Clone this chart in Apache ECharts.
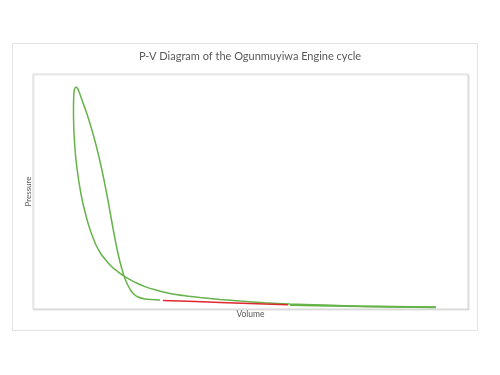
<!DOCTYPE html>
<html>
<head>
<meta charset="utf-8">
<script src="https://cdn.jsdelivr.net/npm/echarts@6/dist/echarts.min.js"></script>
<style>
html,body{margin:0;padding:0;background:#fff;}
#main{width:500px;height:375px;}
</style>
</head>
<body>
<div id="main"></div>
<script>
// Main cycle: compression (right branch, bottom -> peak) then expansion (left branch, peak -> end)
const loopVolume = [29.20, 27.36, 25.75, 24.14, 23.17, 22.41, 21.79, 21.26, 20.92, 20.51, 19.89, 19.36, 18.90, 18.46, 18.05, 17.63, 17.22, 16.78, 16.32, 15.84, 15.33, 14.78, 14.18, 13.54, 12.85, 12.09, 11.26, 10.69, 10.25, 9.82, 9.56, 9.43, 9.36, 9.31, 9.31, 9.36, 9.45, 9.59, 9.77, 10.02, 10.32, 10.67, 11.08, 11.56, 12.14, 12.78, 13.56, 14.48, 15.63, 16.90, 18.16, 19.54, 20.92, 22.30, 23.91, 25.75, 28.05, 31.49, 34.94, 38.39, 42.99, 47.59, 53.33, 59.08, 65.98, 72.87, 82.07, 92.64];
const loopPressure = [3.83, 4.00, 4.26, 5.11, 6.38, 8.09, 10.21, 12.34, 14.04, 16.60, 20.85, 25.11, 29.36, 33.62, 37.87, 42.13, 46.38, 50.64, 54.89, 59.15, 63.40, 67.66, 71.91, 76.17, 80.43, 84.68, 88.94, 91.91, 93.83, 94.47, 93.62, 92.34, 90.21, 86.81, 82.55, 78.30, 74.04, 69.79, 65.53, 61.28, 57.02, 52.77, 48.51, 44.26, 40.00, 35.74, 31.49, 27.23, 23.40, 20.43, 17.87, 15.83, 14.04, 12.51, 10.94, 9.53, 8.17, 6.60, 5.62, 4.89, 4.09, 3.40, 2.68, 2.13, 1.66, 1.28, 0.98, 0.72];
// Exhaust stroke (green)
const exhaustVolume = [92.6, 75.0, 59.1];
const exhaustPressure = [0.7, 1.2, 1.7];
// Intake stroke (red)
const intakeVolume = [58.6, 43.0, 29.9];
const intakePressure = [1.8, 2.8, 3.6];

const titleText = 'P-V Diagram of the Ogunmuyiwa Engine cycle';
const xName = 'Volume';
const yName = 'Pressure';

const zip = (a, b) => a.map((v, i) => [v, b[i]]);
const green = '#66b34a';
const red = '#e0262e';

const chart = echarts.init(document.getElementById('main'), null, {renderer: 'canvas'});
chart.setOption({
  animation: false,
  backgroundColor: '#ffffff',
  graphic: [{
    type: 'rect', z: -10,
    shape: {x: 12.5, y: 43.5, width: 465, height: 287},
    style: {fill: '#ffffff', stroke: '#e3e3e3', lineWidth: 1}
  }],
  title: {
    text: titleText, left: 'center', top: 46,
    textStyle: {fontFamily: 'Lato', fontSize: 11, fontWeight: 'normal', color: '#595959'}
  },
  grid: {
    left: 33, top: 74, right: 32, bottom: 66,
    show: true, borderColor: '#d9d9d9', borderWidth: 1, backgroundColor: '#ffffff',
    shadowColor: 'rgba(0,0,0,0.10)', shadowBlur: 1, shadowOffsetX: 1, shadowOffsetY: 1
  },
  xAxis: {
    type: 'value', min: 0, max: 100,
    name: xName, nameLocation: 'middle', nameGap: 1,
    nameTextStyle: {fontFamily: 'Lato', fontSize: 8.5, color: '#595959'},
    axisLine: {show: false}, axisTick: {show: false}, axisLabel: {show: false}, splitLine: {show: false}
  },
  yAxis: {
    type: 'value', min: 0, max: 100,
    name: yName, nameLocation: 'middle', nameGap: 1,
    nameTextStyle: {fontFamily: 'Lato', fontSize: 8, color: '#595959'},
    axisLine: {show: false}, axisTick: {show: false}, axisLabel: {show: false}, splitLine: {show: false}
  },
  series: [
    {type: 'line', data: zip(loopVolume, loopPressure), smooth: 0.3, showSymbol: false,
     lineStyle: {color: green, width: 1.5}},
    {type: 'line', data: zip(exhaustVolume, exhaustPressure), smooth: 0.3, showSymbol: false,
     lineStyle: {color: green, width: 2}},
    {type: 'line', data: zip(intakeVolume, intakePressure), smooth: 0.3, showSymbol: false,
     lineStyle: {color: red, width: 1.5}}
  ]
});
</script>
</body>
</html>
